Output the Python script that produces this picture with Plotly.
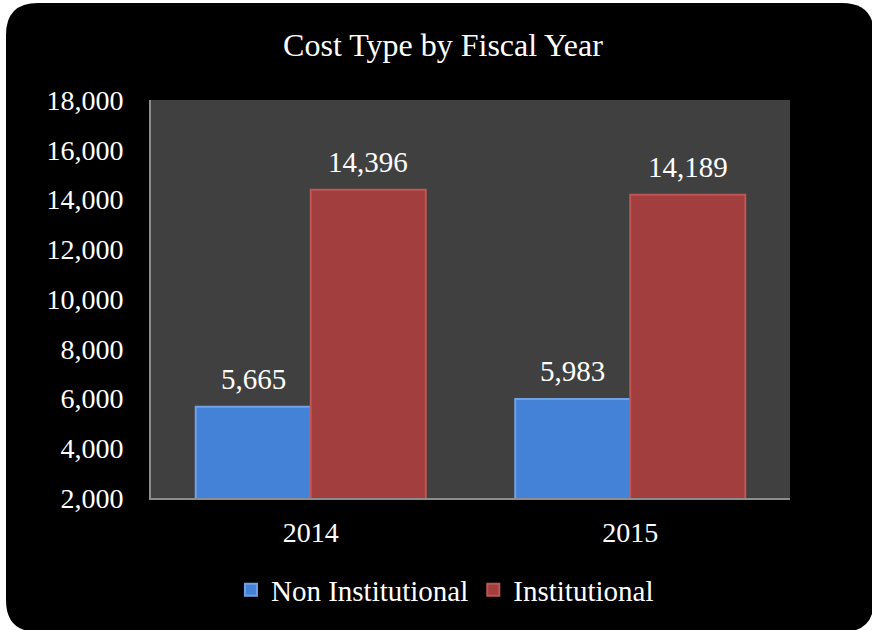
import plotly.graph_objects as go

years = ["2014", "2015"]
non_institutional = [5665, 5983]
institutional = [14396, 14189]
y_ticks = [2000, 4000, 6000, 8000, 10000, 12000, 14000, 16000, 18000]

W, H = 872, 630
L, R, T, B = 151, 82, 100, 132
PW, PH = W - L - R, H - T - B

def px(x):
    return (x - L) / PW

def py(y):
    return (H - B - y) / PH

# rounded rectangle background in pixel coords
x0, x1, y0, y1, r = 6, 874, 3, 632, 32
path = (
    f"M {px(x0 + r)},{py(y0)} L {px(x1 - r)},{py(y0)} "
    f"Q {px(x1)},{py(y0)} {px(x1)},{py(y0 + r)} "
    f"L {px(x1)},{py(y1 - r)} Q {px(x1)},{py(y1)} {px(x1 - r)},{py(y1)} "
    f"L {px(x0 + r)},{py(y1)} Q {px(x0)},{py(y1)} {px(x0)},{py(y1 - r)} "
    f"L {px(x0)},{py(y0 + r)} Q {px(x0)},{py(y0)} {px(x0 + r)},{py(y0)} Z"
)

font = "Liberation Serif, Times New Roman, serif"
BARGAP = 0.28
half_bar_px = PW / len(years) * (1 - BARGAP) / 4

fig = go.Figure()
fig.add_trace(go.Bar(
    name="Non Institutional", x=years, y=non_institutional,
    marker=dict(color="#4382D6", line=dict(color="#6FA2E6", width=2)),
))
fig.add_trace(go.Bar(
    name="Institutional", x=years, y=institutional,
    marker=dict(color="#A23E3E", line=dict(color="#BE5656", width=2)),
))

annotations = []
for vals, sign in ((non_institutional, -1), (institutional, 1)):
    for i, v in enumerate(vals):
        annotations.append(dict(
            x=i, y=v, xref="x", yref="y", text=f"{v:,}", showarrow=False,
            xshift=sign * half_bar_px, yshift=28, yanchor="middle",
            font=dict(size=29, color="white", family=font)))

fig.update_layout(
    width=W, height=H,
    margin=dict(l=L, r=R, t=T, b=B),
    paper_bgcolor="white",
    plot_bgcolor="#404040",
    barmode="group", bargap=BARGAP, bargroupgap=0.0,
    font=dict(family=font, color="white"),
    title=dict(text="Cost Type by Fiscal Year", x=443 / W, xanchor="center",
               y=1 - 45 / H, yanchor="middle",
               font=dict(size=32, color="white", family=font)),
    legend=dict(orientation="h", x=0.46, xanchor="center", xref="paper",
                y=py(590), yanchor="middle",
                font=dict(size=29, color="white", family=font),
                itemwidth=30, bgcolor="rgba(0,0,0,0)"),
    shapes=[
        dict(type="path", path=path, xref="paper", yref="paper",
             fillcolor="black", line=dict(width=0), layer="below"),
        dict(type="rect", x0=0, x1=1, y0=0, y1=1, xref="paper", yref="paper",
             fillcolor="#404040", line=dict(width=0), layer="below"),
    ],
    annotations=annotations,
)
fig.update_yaxes(range=[2000, 18000], tickvals=y_ticks, tickformat=",",
                 showgrid=False, zeroline=False, showline=True,
                 linecolor="#8C8C8C", linewidth=2,
                 ticks="", ticklabelstandoff=20,
                 tickfont=dict(size=28, color="white", family=font))
fig.update_xaxes(type="category", range=[-0.5, len(years) - 0.5],
                 showgrid=False, showline=True,
                 linecolor="#8C8C8C", linewidth=2,
                 ticks="", ticklabelstandoff=8,
                 tickfont=dict(size=28, color="white", family=font))

fig.write_html("out.html")
